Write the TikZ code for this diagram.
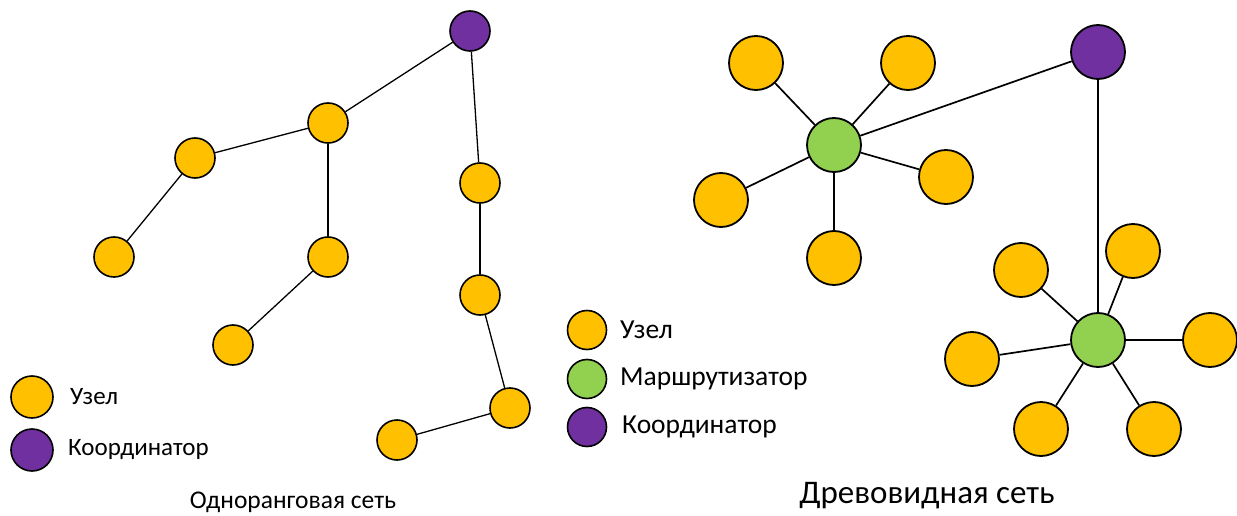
\documentclass[tikz,border=0pt]{standalone}
\usepackage{fontspec}
\setmainfont{Carlito}
\definecolor{nodeY}{HTML}{FFC000}
\definecolor{nodeG}{HTML}{92D050}
\definecolor{nodeP}{HTML}{7030A0}
\begin{document}
\begin{tikzpicture}[x=1pt,y=-1pt,
  sm/.style={circle,draw=black,line width=1.6pt,minimum size=40pt,inner sep=0pt},
  bg/.style={circle,draw=black,line width=1.8pt,minimum size=54pt,inner sep=0pt},
  yel/.style={fill=nodeY},
  grn/.style={fill=nodeG},
  pur/.style={fill=nodeP},
  edge/.style={line width=1.3pt},
  bedge/.style={line width=1.7pt},
  lbl/.style={anchor=west,font=\fontsize{25}{30}\selectfont,inner sep=0pt},
  mlbl/.style={anchor=west,font=\fontsize{27.5}{32}\selectfont,inner sep=0pt}]
\useasboundingbox (0,0) rectangle (1237,516);
% left network
\node[sm,pur] (c1) at (470,31) {};
\node[sm,yel] (a) at (328,123) {};
\node[sm,yel] (b) at (195,158) {};
\node[sm,yel] (d) at (114,257) {};
\node[sm,yel] (e) at (328,257) {};
\node[sm,yel] (f) at (233,345) {};
\node[sm,yel] (g) at (480,183) {};
\node[sm,yel] (h) at (480,295) {};
\node[sm,yel] (i) at (510,408) {};
\node[sm,yel] (j) at (397,440) {};
\draw[edge] (c1) -- (a);
\draw[edge] (a) -- (b);
\draw[edge] (b) -- (d);
\draw[edge] (a) -- (e);
\draw[edge] (e) -- (f);
\draw[edge] (c1) -- (g);
\draw[edge] (g) -- (h);
\draw[edge] (h) -- (i);
\draw[edge] (i) -- (j);
% left legend
\node[sm,yel,minimum size=42pt] (ly) at (32,397) {};
\node[lbl] (lyt) at (70,397) {Узел};
\node[sm,pur,minimum size=42pt] (lp) at (32,450) {};
\node[lbl] (lpt) at (68,450) {Координатор};
\node[font=\fontsize{25.5}{30}\selectfont,inner sep=0pt] (cap1) at (293,502) {Одноранговая сеть};
% middle legend
\node[sm,yel,minimum size=39pt] (my) at (587,330) {};
\node[mlbl] (myt) at (620,330) {Узел};
\node[sm,grn,minimum size=39pt] (mg) at (587,379) {};
\node[mlbl] (mgt) at (620,379) {Маршрутизатор};
\node[sm,pur,minimum size=39pt] (mp) at (587,427) {};
\node[mlbl] (mpt) at (622,427) {Координатор};
% right network
\node[bg,pur] (p) at (1098,52) {};
\node[bg,grn] (r1) at (834,145) {};
\node[bg,yel] (r1a) at (756,63) {};
\node[bg,yel] (r1b) at (908,63) {};
\node[bg,yel] (r1c) at (946,177) {};
\node[bg,yel] (r1d) at (721,200) {};
\node[bg,yel] (r1e) at (834,258) {};
\node[bg,grn] (r2) at (1098,340) {};
\node[bg,yel] (r2a) at (1021,270) {};
\node[bg,yel] (r2b) at (1133,251) {};
\node[bg,yel] (r2c) at (1210,340) {};
\node[bg,yel] (r2d) at (972,359) {};
\node[bg,yel] (r2e) at (1041,429) {};
\node[bg,yel] (r2f) at (1154,429) {};
\foreach \t in {r1a,r1b,r1c,r1d,r1e} \draw[bedge] (r1) -- (\t);
\foreach \t in {r2a,r2b,r2c,r2d,r2e,r2f} \draw[bedge] (r2) -- (\t);
\draw[bedge] (p) -- (r1);
\draw[bedge] (p) -- (r2);
\node[font=\fontsize{33}{38}\selectfont,inner sep=0pt] (cap2) at (927,496) {Древовидная сеть};
\end{tikzpicture}
\end{document}
